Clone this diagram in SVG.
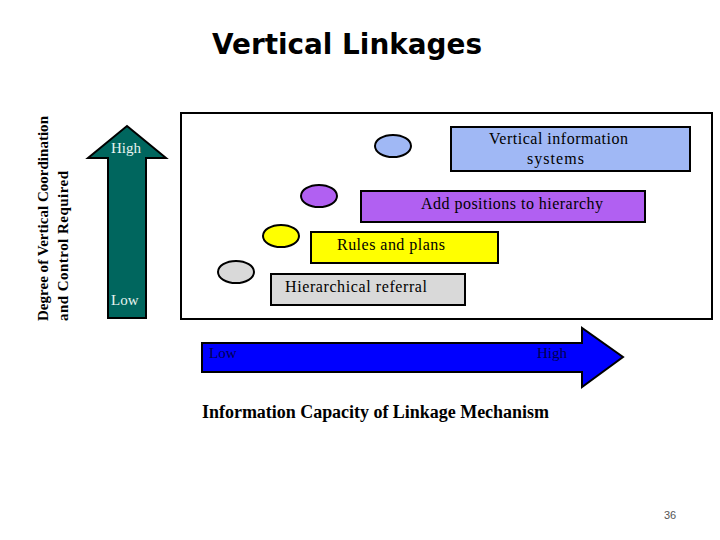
<svg xmlns="http://www.w3.org/2000/svg" width="720" height="540" viewBox="0 0 720 540">
<style>
.lbl{font-family:"Liberation Serif","Times New Roman",serif;font-size:16px;fill:#000;}
.box{stroke:#000;stroke-width:2;}
.ell{stroke:#000;stroke-width:2;}
</style>
<rect width="720" height="540" fill="#fff"/>
<text x="347" y="54" text-anchor="middle" font-family="DejaVu Sans, Verdana, sans-serif" font-weight="bold" font-size="28" textLength="270" lengthAdjust="spacingAndGlyphs" fill="#000">Vertical Linkages</text>
<g id="y-axis-label" font-family="Liberation Serif, serif" font-weight="bold" font-size="15" fill="#000">
<text transform="translate(48,321) rotate(-90)" textLength="205" lengthAdjust="spacing">Degree of Vertical Coordination</text>
<text transform="translate(68,321) rotate(-90)" textLength="150" lengthAdjust="spacing">and Control Required</text>
</g>
<g id="green-arrow">
<polygon points="108,318 146,318 146,158 166,158 127,126 88,158 108,158" fill="#00665E" stroke="#000" stroke-width="2"/>
<text x="111" y="153" class="lbl" style="fill:#e8f4f0;font-size:15px">High</text>
<text x="111" y="305" class="lbl" style="fill:#e8f4f0;font-size:15px">Low</text>
</g>
<g id="frame">
<rect x="181" y="113" width="531" height="206" fill="#fff" stroke="#000" stroke-width="2"/>
</g>
<g id="node-vis">
<ellipse cx="393" cy="146" rx="18" ry="11" fill="#A0B8F5" class="ell"/>
<rect x="451" y="127" width="239" height="44" fill="#A0B8F5" class="box"/>
<text x="489" y="144" class="lbl" textLength="139" lengthAdjust="spacing">Vertical information</text>
<text x="527" y="164" class="lbl" textLength="57" lengthAdjust="spacing">systems</text>
</g>
<g id="node-add">
<ellipse cx="319" cy="196" rx="18" ry="11" fill="#B160F2" class="ell"/>
<rect x="361" y="191" width="284" height="31" fill="#B160F2" class="box"/>
<text x="421" y="209" class="lbl" textLength="182" lengthAdjust="spacing">Add positions to hierarchy</text>
</g>
<g id="node-rules">
<ellipse cx="281" cy="236" rx="18" ry="11" fill="#FFFF00" class="ell"/>
<rect x="311" y="232" width="187" height="31" fill="#FFFF00" class="box"/>
<text x="337" y="250" class="lbl" textLength="108" lengthAdjust="spacing">Rules and plans</text>
</g>
<g id="node-hier">
<ellipse cx="236" cy="272" rx="18" ry="11" fill="#D9D9D9" class="ell"/>
<rect x="271" y="274" width="194" height="31" fill="#D9D9D9" class="box"/>
<text x="285" y="292" class="lbl" textLength="142" lengthAdjust="spacing">Hierarchical referral</text>
</g>
<g id="blue-arrow">
<polygon points="202,343 582,343 582,328 623,357 582,387 582,372 202,372" fill="#0000FF" stroke="#000" stroke-width="2"/>
<text x="209" y="358" class="lbl" style="fill:#000050;font-size:15px">Low</text>
<text x="537" y="358" class="lbl" style="fill:#000050;font-size:15px">High</text>
</g>
<text x="202" y="418" font-family="Liberation Serif, serif" font-weight="bold" font-size="18" textLength="347" lengthAdjust="spacing" fill="#000">Information Capacity of Linkage Mechanism</text>
<text x="670" y="519" text-anchor="middle" font-family="Liberation Sans, Arial, sans-serif" font-size="11" fill="#555">36</text>
</svg>
